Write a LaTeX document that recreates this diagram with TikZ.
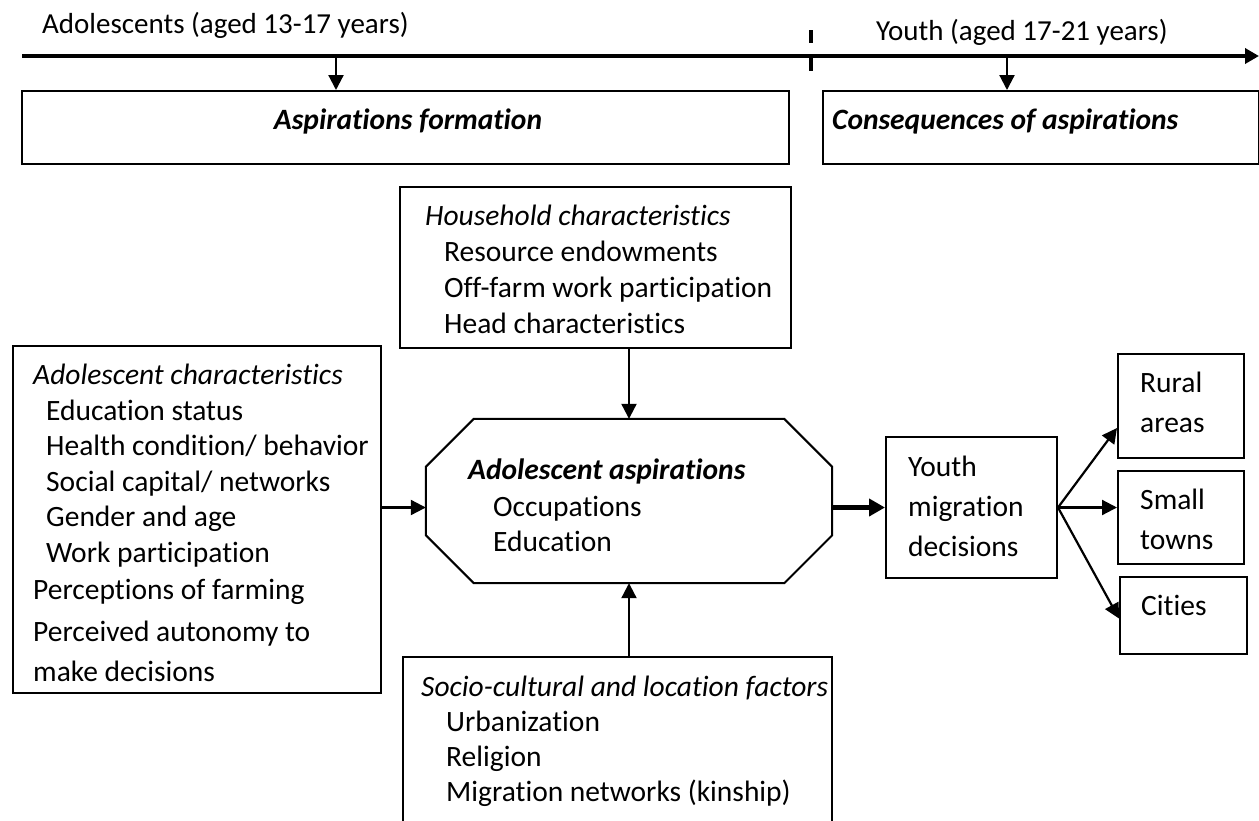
\documentclass[tikz,border=0pt]{standalone}
\usepackage{fontspec}
\setmainfont[Ligatures=NoCommon]{Carlito}
\usetikzlibrary{arrows.meta}
\usetikzlibrary{calc}

\begin{document}
\begin{tikzpicture}[x=1pt, y=-1pt,
  every node/.style={font=\fontsize{29.5}{35}\selectfont},
  box/.style={draw, line width=2pt, inner sep=0pt, anchor=north west},
  line/.style={anchor=west, inner sep=0pt, text height=19pt, text depth=0pt},
  hd/.style={line, font=\fontsize{29.5}{35}\selectfont\itshape},
  bhd/.style={line, font=\fontsize{29.5}{35}\selectfont\bfseries\itshape},
  flow/.style={line width=2.2pt, -{Triangle[length=15pt, width=15pt]}},
  bigflow/.style={line width=5pt, -{Triangle[length=16pt, width=17pt]}},
  timeline/.style={line width=3.6pt, -{Triangle[length=14pt, width=15pt]}}]
\useasboundingbox (0,0) rectangle (1259,820);
\clip (0,0) rectangle (1259,820);

\coordinate (start) at (22,56);
\coordinate (end) at (1259,56);
\coordinate (adolmark) at (336,56);
\coordinate (youthmark) at (1007,56);
\draw[timeline] (start) -- (end);
\draw[line width=3.6pt, dash pattern=on 13pt off 15pt] (811,30) -- (811,71);
\node[line, font=\fontsize{29}{35}\selectfont] (adollabel) at (42,24) {Adolescents (aged 13-17 years)};
\node[line, font=\fontsize{29}{35}\selectfont] (youthlabel) at (876,31) {Youth (aged 17-21 years)};

\node[box, minimum width=767pt, minimum height=73pt] (form) at (21,90) {};
\node[bhd, anchor=center] (form-0) at (408,120) {Aspirations formation};
\node[box, minimum width=436pt, minimum height=73pt] (cons) at (822,90) {};
\node[bhd] (cons-0) at (832,120) {Consequences of aspirations};
\draw[flow] (adolmark) -- (adolmark |- form.north);
\draw[flow] (youthmark) -- (youthmark |- cons.north);

\node[box, minimum width=391pt, minimum height=161pt] (house) at (399,186) {};
\node[hd] (house-0) at (425,216) {Household characteristics};
\foreach \lbl [count=\i] in {Resource endowments, Off-farm work participation, Head characteristics}
  \node[line] (house-\i) at (444,{216+36*\i}) {\lbl};

\node[box, minimum width=368pt, minimum height=347pt] (adol) at (12,345) {};
\node[hd] (adol-0) at (33,375) {Adolescent characteristics};
\node[line] (adol-1) at (46,411) {Education status};
\node[line] (adol-2) at (46,446) {Health condition/ behavior};
\node[line] (adol-3) at (46,482) {Social capital/ networks};
\node[line] (adol-4) at (46,517) {Gender and age};
\node[line] (adol-5) at (46,553) {Work participation};
\node[line] (adol-6) at (33,590) {Perceptions of farming};
\node[line] (adol-7) at (33,632) {Perceived autonomy to};
\node[line] (adol-8) at (33,672) {make decisions};

\node[minimum width=406pt, minimum height=164pt, inner sep=0pt] (asp) at (629,501) {};
\draw[line width=2pt] ($(asp.north west)+(48,0)$) -- ($(asp.north east)+(-48,0)$)
  -- ($(asp.north east)+(0,48)$) -- ($(asp.south east)+(0,-48)$)
  -- ($(asp.south east)+(-48,0)$) -- ($(asp.south west)+(48,0)$)
  -- ($(asp.south west)+(0,-48)$) -- ($(asp.north west)+(0,48)$) -- cycle;
\node[bhd] (asp-0) at (468,470) {Adolescent aspirations};
\node[line] (asp-1) at (493,507) {Occupations};
\node[line] (asp-2) at (493,542) {Education};

\node[box, minimum width=429pt, minimum height=180pt] (socio) at (402,656) {};
\node[hd] (socio-0) at (421,687) {Socio-cultural and location factors};
\foreach \lbl [count=\i] in {Urbanization, Religion, Migration networks (kinship)}
  \node[line] (socio-\i) at (446,{687+35*\i}) {\lbl};

\node[box, minimum width=171pt, minimum height=141pt] (youth) at (885,436) {};
\node[line] (youth-1) at (908,467) {Youth};
\node[line] (youth-2) at (908,507) {migration};
\node[line] (youth-3) at (908,547) {decisions};

\node[box, minimum width=126pt, minimum height=104pt] (rural) at (1117,353) {};
\node[line] (rural-1) at (1140,383) {Rural};
\node[line] (rural-2) at (1140,423) {areas};
\node[box, minimum width=126pt, minimum height=93pt] (small) at (1117,470) {};
\node[line] (small-1) at (1140,500) {Small};
\node[line] (small-2) at (1140,540) {towns};
\node[box, minimum width=127pt, minimum height=77pt] (cities) at (1119,576) {};
\node[line] (cities-1) at (1141,606) {Cities};

\draw[flow] (asp.north |- house.south) -- (asp.north);
\draw[flow] (asp.south |- socio.north) -- (asp.south);
\draw[flow] (adol.east |- youth.west) -- (asp.west |- youth.west);
\draw[bigflow] (asp.east |- youth.west) -- (youth.west);
\draw[flow] (youth.east) -- ($(rural.west)+(0,22)$);
\draw[flow] (youth.east) -- (youth.east -| small.west);
\draw[flow] (youth.east) -- ($(cities.west)+(0,3)$);
\end{tikzpicture}
\end{document}
